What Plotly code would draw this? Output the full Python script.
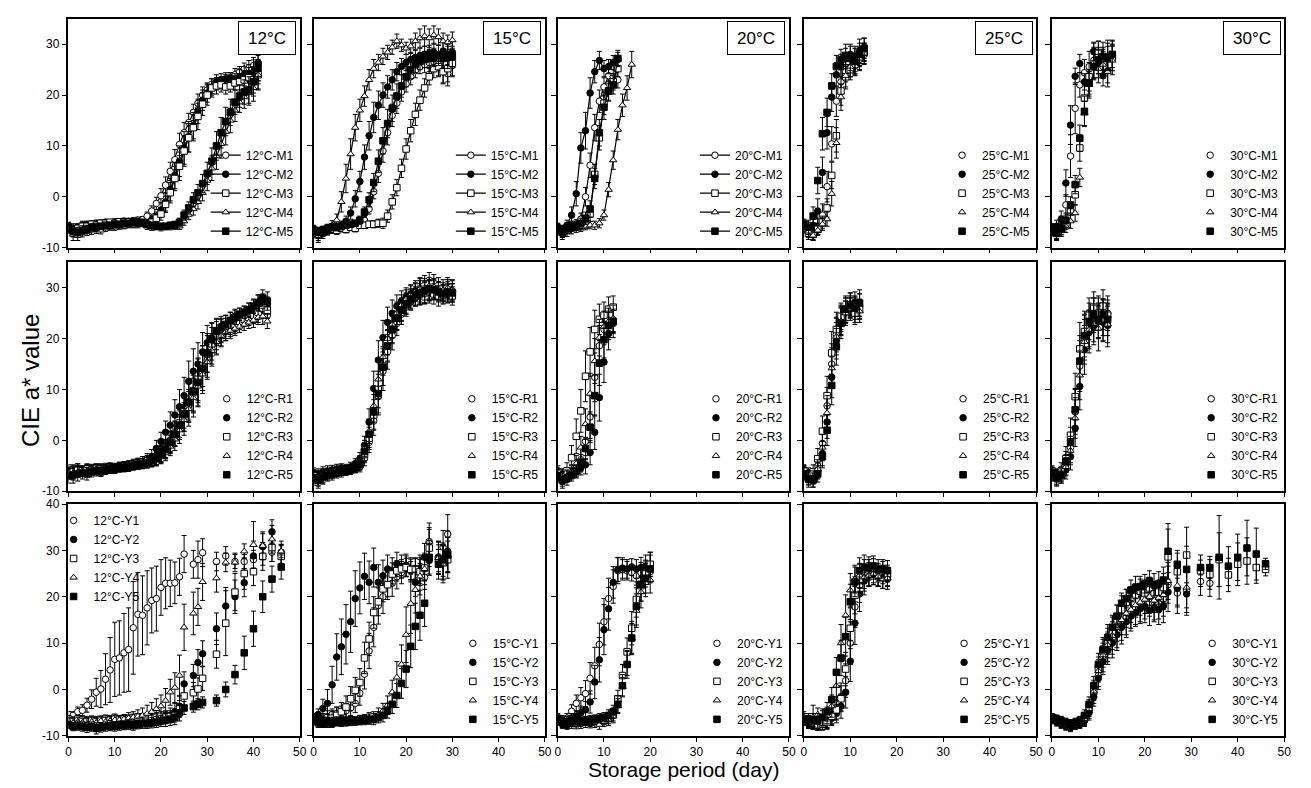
import plotly.graph_objects as go

# ---------------- DATA ----------------
TEMPS = ["12°C", "15°C", "20°C", "25°C", "30°C"]
KINDS = ["M", "R", "Y"]
X_TICKS = [0, 10, 20, 30, 40, 50]
Y_TICKS_MR = [-10, 0, 10, 20, 30]
Y_TICKS_Y = [-10, 0, 10, 20, 30, 40]

# ---- 12°C M ----
d12M = list(range(0, 42))
v12M1 = [-5.8,-6.2,-6.0,-5.6,-5.4,-5.6,-5.2,-5.4,-5.0,-5.2,-4.9,-5.0,-4.8,-5.0,-4.7,-4.6,-4.5,-3.8,-2.8,-1.3,0.2,2.3,5.0,7.3,10.3,12.6,14.6,16.6,18.4,20.0,21.0,21.5,22.2,22.6,23.0,23.2,24.0,24.6,25.1,25.4,25.8,24.8]
v12M2 = [-6.0,-6.8,-6.4,-6.0,-5.6,-5.5,-5.3,-5.2,-5.0,-5.1,-5.0,-4.9,-5.0,-4.8,-4.8,-4.9,-5.0,-5.2,-4.6,-4.0,-2.6,-1.0,1.4,4.2,7.0,9.6,11.8,14.0,16.8,19.0,20.4,21.6,22.6,23.0,23.2,23.4,23.0,23.6,24.0,24.2,24.5,25.0]
v12M3 = [-6.2,-6.6,-6.2,-5.8,-5.8,-5.4,-5.6,-5.2,-5.2,-5.0,-5.2,-4.9,-5.0,-4.9,-5.0,-5.1,-5.2,-5.3,-5.0,-4.2,-3.4,-1.5,0.8,3.6,6.0,9.0,11.6,13.6,15.8,18.2,20.0,21.4,21.8,22.0,21.6,21.8,22.4,22.6,23.0,23.4,23.0,24.0]
v12M4 = [-6.4,-7.4,-7.6,-7.0,-6.8,-6.6,-6.5,-6.6,-6.2,-6.0,-6.0,-5.8,-5.8,-5.6,-5.6,-5.5,-5.4,-5.8,-6.0,-6.0,-6.1,-6.0,-5.9,-5.8,-5.8,-4.8,-3.5,-2.4,-1.0,0.8,3.2,5.6,8.0,10.4,12.8,15.0,17.0,18.6,19.6,20.4,21.4,24.0]
v12M5 = [-6.0,-6.8,-7.0,-6.6,-6.4,-6.0,-6.0,-5.8,-5.6,-5.6,-5.4,-5.4,-5.2,-5.2,-5.0,-5.0,-5.2,-5.4,-5.6,-5.8,-5.8,-5.8,-5.6,-5.5,-5.0,-3.6,-2.2,-0.6,0.8,2.6,4.6,7.0,10.0,12.6,14.8,16.6,18.6,19.8,20.6,21.0,22.6,26.0]
e12M1 = [0.8,0.9,0.7,0.8,0.6,0.7,0.6,0.6,0.5,0.6,0.5,0.5,0.6,0.5,0.5,0.6,0.6,0.8,1.0,1.2,1.4,1.6,1.8,2.0,2.2,2.0,1.8,1.6,1.8,1.6,1.4,1.2,1.2,1.0,1.0,1.2,1.2,1.0,1.2,1.4,1.6,2.0]
e12M2 = [0.8,1.0,0.8,0.7,0.7,0.6,0.6,0.6,0.5,0.5,0.5,0.6,0.5,0.5,0.6,0.5,0.6,0.6,0.8,1.0,1.4,1.8,2.2,2.6,3.0,3.2,3.0,2.6,2.4,2.0,1.8,1.6,1.4,1.2,1.2,1.0,1.2,1.4,1.6,1.8,2.4,2.8]
e12M3 = [0.9,1.0,0.8,0.8,0.7,0.7,0.6,0.6,0.6,0.5,0.6,0.5,0.5,0.6,0.5,0.5,0.6,0.6,0.7,0.9,1.2,1.6,2.0,2.4,2.8,3.0,2.8,2.6,2.6,2.2,2.0,1.8,1.6,1.4,1.4,1.2,1.4,1.6,1.8,2.0,2.6,2.8]
e12M4 = [0.8,1.2,1.0,0.9,0.8,0.8,0.7,0.7,0.6,0.6,0.6,0.6,0.5,0.5,0.5,0.6,0.5,0.6,0.6,0.5,0.6,0.5,0.6,0.6,0.6,0.8,1.0,1.2,1.4,1.6,2.0,2.4,2.6,2.8,2.6,2.4,2.2,2.0,2.2,2.4,2.6,3.0]
e12M5 = [0.9,1.1,1.0,0.9,0.8,0.7,0.7,0.6,0.6,0.6,0.6,0.5,0.5,0.5,0.6,0.5,0.6,0.6,0.6,0.5,0.6,0.6,0.6,0.7,0.8,1.0,1.2,1.4,1.6,1.8,2.2,2.6,2.8,3.0,2.8,2.6,2.4,2.2,2.4,2.6,2.8,3.2]

# ---- 15°C M ----
d15M = list(range(0, 31))
v15M1 = [-6.4,-7.0,-6.6,-6.2,-6.0,-6.2,-5.8,-6.0,-5.6,-5.8,-5.4,-4.6,-2.4,1.0,4.6,9.0,12.6,16.0,18.4,20.6,22.2,23.6,24.8,25.6,26.0,26.4,26.6,26.0,24.8,24.2,25.8]
v15M2 = [-6.6,-7.2,-6.8,-6.4,-6.0,-6.0,-5.6,-4.8,-3.2,-0.4,3.0,7.8,12.0,15.6,18.0,20.0,21.6,23.0,24.6,25.6,26.4,27.0,27.4,27.8,28.0,28.2,28.4,28.0,28.6,28.0,28.4]
v15M3 = [-6.6,-7.4,-6.8,-6.6,-6.4,-6.6,-6.2,-6.4,-6.0,-6.2,-5.6,-5.6,-5.4,-5.4,-5.2,-5.2,-3.8,-1.0,1.8,5.6,9.4,13.0,16.2,19.0,21.4,23.6,25.2,25.6,24.6,25.2,26.2]
v15M4 = [-6.8,-7.8,-7.2,-6.6,-5.6,-4.6,-1.0,3.6,8.4,13.6,17.0,19.8,23.0,25.2,26.4,27.6,28.4,29.4,30.6,29.8,29.2,29.6,30.6,31.2,31.6,31.2,31.8,31.4,30.6,30.4,30.8]
v15M5 = [-6.6,-7.0,-6.8,-6.2,-6.0,-6.0,-5.8,-5.6,-5.4,-5.2,-4.6,-3.0,-0.6,2.8,7.0,11.0,14.4,17.4,19.8,21.8,23.6,25.0,26.0,26.6,27.0,27.2,27.4,27.8,27.2,27.4,27.6]
e15M1 = [0.8,1.0,0.8,0.7,0.7,0.6,0.6,0.6,0.6,0.6,0.7,0.8,1.0,1.4,1.8,2.2,2.4,2.2,2.0,1.8,1.6,1.6,1.4,1.4,1.6,1.8,2.0,2.2,2.4,2.4,2.2]
e15M2 = [0.8,1.0,0.9,0.8,0.7,0.7,0.8,1.0,1.2,1.6,2.0,2.4,2.8,3.0,2.8,2.4,2.2,2.0,1.8,1.6,1.6,1.4,1.4,1.4,1.6,1.6,1.8,1.8,2.0,2.0,2.2]
e15M3 = [0.8,1.2,1.0,0.9,0.8,0.8,0.7,0.7,0.6,0.7,0.6,0.6,0.6,0.7,0.8,1.0,1.2,1.4,1.6,1.8,2.0,2.2,2.2,2.0,1.8,1.6,1.8,2.0,2.4,2.6,2.4]
e15M4 = [1.0,1.2,1.0,0.9,0.9,1.2,2.0,2.8,3.0,2.6,2.2,2.0,2.0,1.8,1.6,1.6,1.4,1.4,1.4,1.2,1.2,1.4,1.6,1.8,2.0,1.8,1.8,1.6,1.6,1.4,1.6]
e15M5 = [0.8,1.0,0.9,0.8,0.7,0.7,0.7,0.6,0.6,0.6,0.8,1.0,1.4,1.8,2.2,2.6,2.8,2.6,2.4,2.2,2.0,1.8,1.6,1.6,1.6,1.8,1.8,2.0,2.0,2.2,2.0]

# ---- 20°C M ----
d20M = list(range(0, 14))
d20M4 = list(range(0, 17))
v20M1 = [-6.0,-6.6,-6.0,-5.6,-5.4,-4.4,0.0,6.2,13.6,18.8,21.6,23.8,23.6,23.0]
v20M2 = [-6.2,-6.8,-5.6,-3.6,0.6,9.6,13.0,20.4,24.6,26.8,25.2,25.6,26.4,27.0]
v20M3 = [-6.4,-7.0,-6.4,-6.0,-5.8,-5.6,-5.2,-3.4,4.4,11.6,18.4,20.8,22.6,25.2]
v20M4 = [-6.6,-7.2,-6.8,-6.4,-6.2,-6.0,-5.8,-5.6,-5.6,-5.2,-3.6,1.4,7.2,13.2,18.0,21.4,26.0]
v20M5 = [-6.2,-6.8,-6.2,-5.8,-5.6,-5.2,-4.2,-2.4,3.6,12.6,17.6,20.8,22.0,27.2]
e20M1 = [0.8,1.0,0.8,0.8,0.9,1.2,1.8,2.4,2.6,2.2,1.8,1.6,1.4,1.6]
e20M2 = [0.8,1.0,1.0,1.6,2.4,3.0,3.6,3.0,2.2,1.8,1.6,1.4,1.4,1.4]
e20M3 = [0.8,1.0,0.9,0.8,0.8,0.9,1.0,1.4,2.0,2.4,2.2,1.8,1.6,1.6]
e20M4 = [0.9,1.2,1.0,0.9,0.8,0.8,0.7,0.7,0.8,0.9,1.0,1.4,1.8,2.0,2.2,2.4,2.6]
e20M5 = [0.9,1.1,0.9,0.8,0.8,1.0,1.2,1.6,2.0,2.6,2.4,2.0,1.8,1.6]

# ---- 25°C M ----
d25M = list(range(0, 14))
v25M1 = [-5.8,-6.6,-7.0,-5.8,-3.6,2.0,10.4,18.8,22.6,24.6,25.4,26.2,27.0,28.0]
v25M2 = [-5.6,-6.4,-5.6,-2.8,4.8,12.6,19.6,24.0,25.8,27.2,28.0,27.4,28.6,29.0]
v25M3 = [-6.2,-7.2,-7.4,-6.4,-5.0,-2.2,4.2,12.0,20.8,23.6,25.0,26.0,27.6,28.4]
v25M4 = [-6.0,-6.8,-7.6,-6.6,-5.4,-4.4,0.6,10.6,19.6,23.8,25.6,26.4,27.2,28.2]
v25M5 = [-5.4,-6.0,-3.8,3.2,12.4,16.6,21.8,25.6,27.0,27.8,27.2,26.6,28.0,29.2]
e25M1 = [0.8,1.2,1.4,1.6,2.2,3.0,3.4,3.0,2.4,2.0,1.8,2.0,2.2,2.0]
e25M2 = [1.0,1.4,1.6,2.4,3.0,3.2,2.8,2.4,2.2,2.0,2.0,2.2,2.4,2.2]
e25M3 = [0.9,1.2,1.2,1.0,1.2,1.8,2.6,3.2,2.8,2.4,2.0,2.2,2.0,1.8]
e25M4 = [0.9,1.2,1.0,1.0,1.2,1.4,2.4,3.0,2.6,2.2,2.0,1.8,2.2,2.0]
e25M5 = [1.0,1.4,1.8,2.6,3.2,2.8,2.4,2.2,2.0,2.2,2.4,2.6,2.2,2.0]

# ---- 30°C M ----
d30M = list(range(0, 14))
v30M1 = [-6.2,-6.6,-5.2,-1.6,8.0,17.4,22.0,24.4,25.6,26.8,27.4,26.4,27.6,27.8]
v30M2 = [-6.5,-5.8,-4.4,2.7,14.1,23.7,26.2,22.6,22.4,28.6,26.2,23.8,24.8,27.6]
v30M3 = [-6.6,-7.2,-6.4,-5.2,-3.0,0.4,9.6,19.4,23.6,25.6,28.2,26.4,27.4,27.4]
v30M4 = [-6.8,-7.4,-6.6,-5.8,-4.8,-3.2,3.8,16.4,22.0,26.4,25.2,26.0,24.6,26.8]
v30M5 = [-6.4,-7.0,-6.2,-4.6,-1.6,2.4,11.5,16.8,22.4,25.6,26.8,27.6,27.2,28.0]
e30M1 = [0.9,1.2,1.4,2.0,4.2,5.0,2.4,2.6,3.0,3.4,3.2,3.0,3.2,3.0]
e30M2 = [1.0,1.2,1.6,2.6,3.8,1.6,1.8,1.6,2.2,1.8,2.8,2.0,2.4,2.2]
e30M3 = [0.9,1.2,1.1,1.2,1.8,2.0,2.6,3.0,2.8,2.6,2.4,2.6,2.8,2.6]
e30M4 = [0.9,1.2,1.2,1.2,1.4,1.6,1.8,2.4,2.6,3.0,2.8,2.6,3.0,2.8]
e30M5 = [1.0,1.2,1.2,1.4,1.6,1.8,2.6,3.0,2.6,2.4,2.6,2.8,2.4,2.6]

# ---- 12°C R ----
d12R = list(range(0, 44))
v12R1 = [-6.2,-6.0,-5.6,-6.2,-5.8,-5.6,-5.8,-5.6,-5.8,-5.6,-5.6,-5.4,-5.2,-5.0,-5.0,-4.8,-4.6,-4.4,-4.0,-3.6,-3.0,-2.0,-0.8,0.8,2.6,4.6,6.8,9.2,11.2,13.4,15.8,18.0,19.6,20.8,21.4,21.8,22.2,22.8,23.4,23.8,24.2,24.6,25.6,24.6]
v12R2 = [-6.0,-6.4,-5.8,-6.0,-5.6,-5.8,-5.6,-5.4,-5.8,-5.6,-5.4,-5.2,-5.0,-5.2,-4.8,-4.6,-4.2,-3.8,-3.2,-1.6,-0.2,1.6,3.0,5.0,6.6,8.8,11.6,13.6,15.0,17.4,19.2,20.2,21.2,21.6,22.8,23.6,24.4,24.8,25.2,25.8,26.2,27.2,27.6,26.6]
v12R3 = [-6.4,-6.2,-5.8,-6.0,-5.6,-5.8,-5.4,-5.6,-5.4,-5.2,-5.4,-5.2,-5.0,-4.8,-4.6,-4.4,-4.2,-4.0,-3.8,-3.4,-2.6,-1.6,-0.2,1.4,3.4,5.6,7.6,9.8,12.0,14.6,17.0,19.0,20.6,21.6,22.0,22.4,22.8,23.4,23.8,24.2,24.6,25.2,26.0,25.6]
v12R4 = [-6.6,-6.4,-6.2,-6.0,-6.2,-5.8,-5.6,-5.8,-5.6,-5.4,-5.6,-5.4,-5.2,-5.2,-5.0,-4.8,-4.6,-4.4,-4.2,-3.8,-3.2,-2.4,-1.2,0.2,2.0,4.0,6.2,8.4,10.6,13.0,15.4,17.6,19.4,20.6,21.4,21.6,22.0,22.4,22.8,23.2,23.6,24.2,24.4,23.4]
v12R5 = [-7.0,-6.8,-6.6,-6.4,-6.6,-6.2,-6.0,-6.2,-5.8,-5.6,-5.6,-5.4,-5.4,-5.2,-5.0,-4.8,-4.6,-4.4,-4.0,-3.6,-2.8,-1.8,-0.4,1.2,3.0,5.2,7.4,9.6,11.4,14.2,17.2,19.8,21.4,22.2,22.8,23.6,24.2,24.8,25.2,25.6,26.4,27.0,28.0,27.4]
e12R1 = [1.0,1.2,1.0,0.9,1.0,0.9,0.8,0.9,0.8,0.8,0.9,0.8,0.8,0.9,0.8,0.8,0.9,1.0,1.0,1.2,1.4,1.6,1.8,2.0,2.4,2.8,3.2,3.6,3.8,3.6,3.4,3.0,2.6,2.2,1.8,1.4,1.2,1.0,1.0,1.2,1.2,1.4,1.6,1.4]
e12R2 = [1.2,1.4,1.2,1.0,1.0,0.9,0.9,0.8,0.9,0.8,0.9,0.9,0.8,0.8,0.9,1.0,1.0,1.2,1.4,1.6,1.8,2.2,2.6,3.0,3.4,3.6,4.0,4.4,4.2,3.8,3.4,3.0,2.6,2.2,1.8,1.6,1.4,1.2,1.2,1.2,1.4,1.4,1.2,1.6]
e12R3 = [1.0,1.0,0.9,1.0,0.8,0.9,0.8,0.8,0.9,0.8,0.8,0.9,0.8,0.8,0.9,0.9,1.0,1.0,1.2,1.4,1.6,1.8,2.0,2.4,2.8,3.2,3.6,4.0,4.2,4.0,3.6,3.2,2.8,2.4,2.0,1.6,1.4,1.2,1.2,1.2,1.4,1.4,1.6,1.6]
e12R4 = [1.0,1.2,1.0,0.9,0.9,0.8,0.9,0.8,0.8,0.8,0.8,0.8,0.9,0.8,0.8,0.9,0.9,1.0,1.0,1.2,1.4,1.6,1.8,2.2,2.6,3.0,3.4,3.8,4.0,3.8,3.4,3.0,2.6,2.2,1.8,1.6,1.4,1.2,1.2,1.2,1.4,1.4,1.6,1.4]
e12R5 = [1.4,1.6,1.4,1.2,1.2,1.0,1.0,0.9,0.9,0.9,0.9,0.8,0.8,0.9,0.8,0.9,1.0,1.0,1.2,1.4,1.6,1.8,2.0,2.4,2.8,3.4,3.8,4.2,4.6,4.4,3.8,3.2,2.6,2.2,1.8,1.6,1.4,1.2,1.2,1.4,1.4,1.6,1.6,1.8]

# ---- 15°C R ----
d15R = list(range(0, 31))
v15R1 = [-6.8,-7.2,-6.6,-6.4,-6.2,-6.0,-6.0,-5.8,-5.6,-5.4,-5.2,-3.6,-0.4,3.8,8.6,13.6,17.4,20.6,23.0,24.8,26.2,27.2,28.0,28.6,29.0,29.4,29.6,29.2,29.0,28.8,29.4]
v15R2 = [-6.4,-6.8,-6.2,-6.0,-5.8,-5.6,-5.4,-5.6,-5.2,-4.6,-3.6,-1.0,3.6,10.2,15.8,20.2,23.2,25.0,26.4,27.4,28.2,28.8,29.4,29.6,29.2,29.6,29.8,29.4,29.2,29.6,29.0]
v15R3 = [-7.0,-7.4,-7.0,-6.6,-6.4,-6.2,-6.0,-5.8,-5.6,-5.2,-4.8,-2.8,0.4,5.0,10.0,14.6,18.6,21.8,24.2,25.8,27.0,27.8,28.4,28.8,29.0,29.2,28.8,28.4,28.6,29.0,28.4]
v15R4 = [-7.2,-7.6,-7.2,-6.8,-6.4,-6.2,-6.0,-5.8,-5.6,-5.0,-4.2,-1.6,1.8,6.8,12.0,16.4,20.0,22.8,25.0,26.6,27.8,28.6,29.2,29.8,30.0,30.4,30.2,29.8,29.6,30.0,29.6]
v15R5 = [-7.4,-7.8,-7.2,-6.8,-6.6,-6.4,-6.2,-6.0,-5.8,-5.4,-4.6,-2.2,1.2,5.6,9.2,14.4,18.6,21.8,24.0,25.6,26.8,27.8,28.6,29.0,29.4,29.8,29.6,29.2,28.8,29.2,29.0]
e15R1 = [1.0,1.2,1.0,0.9,0.9,0.8,0.8,0.8,0.8,0.9,1.0,1.4,2.0,2.8,3.6,3.8,3.4,2.8,2.4,2.0,1.8,1.6,1.6,1.8,2.0,2.0,1.8,1.8,1.6,1.8,2.0]
e15R2 = [1.0,1.2,1.0,1.0,0.9,0.9,0.8,0.9,0.9,1.0,1.2,1.8,2.6,3.4,3.8,3.4,3.0,2.6,2.2,2.0,1.8,1.8,2.0,2.4,2.2,2.0,2.0,1.8,1.8,2.0,1.8]
e15R3 = [1.2,1.4,1.2,1.0,1.0,0.9,0.9,0.9,0.8,0.9,1.0,1.6,2.2,3.0,3.6,3.8,3.2,2.8,2.4,2.2,2.0,1.8,1.8,2.0,2.2,2.2,2.0,2.0,1.8,1.8,1.8]
e15R4 = [1.2,1.4,1.2,1.0,1.0,0.9,0.9,0.8,0.8,0.9,1.2,1.6,2.4,3.2,3.8,3.6,3.2,2.6,2.2,2.0,1.8,1.8,1.8,2.0,2.4,2.6,2.4,2.2,2.0,2.0,2.0]
e15R5 = [1.4,1.6,1.4,1.2,1.2,1.0,1.0,0.9,0.9,1.0,1.2,1.8,2.6,3.4,3.8,3.6,3.0,2.6,2.4,2.2,2.0,2.0,2.2,2.4,2.4,2.2,2.0,2.0,1.8,2.0,1.8]

# ---- 20°C R ----
d20R = list(range(0, 13))
v20R1 = [-6.4,-7.2,-6.8,-6.0,-5.4,-3.8,-0.2,4.6,12.4,18.6,21.8,22.8,23.6]
v20R2 = [-6.6,-7.4,-7.0,-6.6,-6.2,-5.4,-4.8,-2.4,1.6,8.4,15.4,21.0,23.0]
v20R3 = [-6.2,-7.0,-6.0,-3.4,0.8,5.8,12.6,17.4,21.8,23.8,24.6,25.8,26.2]
v20R4 = [-6.8,-7.6,-7.0,-6.2,-4.6,-1.4,3.2,9.2,15.6,20.2,22.4,23.4,24.0]
v20R5 = [-7.0,-7.8,-7.4,-6.8,-6.0,-4.4,-1.6,2.6,8.8,15.2,19.8,22.6,23.4]
e20R1 = [1.0,1.4,1.2,1.2,1.6,2.4,3.4,4.2,4.8,4.0,3.0,2.6,2.4]
e20R2 = [1.0,1.2,1.2,1.0,1.2,1.4,1.8,2.4,3.4,4.6,4.0,3.2,2.8]
e20R3 = [1.2,1.4,1.6,2.4,3.4,4.2,5.0,4.8,3.8,3.0,2.6,2.4,2.2]
e20R4 = [1.0,1.4,1.2,1.2,1.6,2.2,3.0,4.0,4.4,3.6,3.0,2.6,2.6]
e20R5 = [1.2,1.6,1.4,1.2,1.2,1.6,2.2,3.0,4.0,4.4,3.6,2.8,2.4]

# ---- 25°C R ----
d25R = list(range(0, 13))
v25R1 = [-5.8,-6.6,-7.0,-5.0,-0.6,6.8,15.0,20.8,24.0,25.2,26.0,25.6,26.6]
v25R2 = [-6.2,-7.2,-7.4,-6.0,-2.6,3.6,12.4,19.6,23.6,25.6,26.8,27.2,26.4]
v25R3 = [-6.0,-7.0,-6.2,-3.6,1.8,8.8,17.2,21.8,24.4,25.8,26.4,25.0,25.8]
v25R4 = [-6.4,-7.4,-7.6,-5.6,-1.4,5.4,14.2,20.4,23.4,25.0,25.8,26.4,25.4]
v25R5 = [-6.6,-7.6,-7.8,-6.6,-3.2,2.0,10.8,18.4,23.0,25.8,26.6,26.0,27.0]
e25R1 = [1.0,1.2,1.4,2.0,2.8,3.6,4.0,3.4,2.6,2.2,2.0,2.4,2.2]
e25R2 = [1.2,1.4,1.2,1.6,2.4,3.2,4.0,3.6,2.8,2.4,2.2,2.0,2.4]
e25R3 = [1.0,1.2,1.4,2.0,3.0,3.8,4.2,3.4,2.6,2.2,2.0,2.2,2.0]
e25R4 = [1.2,1.4,1.6,1.8,2.6,3.4,4.0,3.6,2.8,2.4,2.2,2.0,2.2]
e25R5 = [1.2,1.6,1.4,1.6,2.2,3.0,3.8,3.6,3.0,2.6,2.4,2.2,2.6]

# ---- 30°C R ----
d30R = list(range(0, 13))
v30R1 = [-6.2,-7.0,-6.6,-4.8,-1.4,5.6,14.6,20.2,22.0,24.6,23.4,24.2,25.0]
v30R2 = [-6.6,-7.4,-7.0,-5.8,-3.2,2.4,10.6,17.8,21.2,22.4,24.0,23.2,22.6]
v30R3 = [-6.0,-6.8,-6.0,-3.6,1.0,8.6,18.0,21.4,24.6,26.2,25.0,26.4,24.6]
v30R4 = [-6.8,-7.6,-7.2,-5.2,-2.0,4.4,12.8,19.4,21.8,23.0,22.0,23.6,22.8]
v30R5 = [-6.4,-7.2,-6.8,-4.2,-0.4,6.0,15.6,20.6,23.4,24.8,23.6,24.8,23.8]
e30R1 = [1.0,1.2,1.4,2.0,3.0,4.4,5.0,4.4,3.6,3.4,3.2,3.6,3.4]
e30R2 = [1.2,1.4,1.4,1.8,2.6,3.6,4.6,4.8,4.0,3.6,4.0,3.8,4.2]
e30R3 = [1.0,1.2,1.6,2.4,3.4,4.6,5.2,4.0,3.4,3.0,3.4,3.2,3.0]
e30R4 = [1.2,1.4,1.2,1.8,2.8,4.0,4.8,4.4,3.8,3.6,4.4,4.0,3.6]
e30R5 = [1.0,1.4,1.2,2.0,3.0,4.2,5.0,4.2,3.6,3.2,3.4,3.0,3.2]

# ---- 12°C Y ----
d12Y = [0,1,2,3,4,5,6,7,8,9,10,11,12,13,14,15,16,17,18,19,20,21,22,23,24,25,27,28,29,32,34,36,38,40,42,44,46]
v12Y1 = [-5.4,-5.6,-4.8,-4.5,-3.4,-2.1,-0.6,0.1,2.2,4.2,6.5,6.8,7.9,8.6,13.3,16.2,16.0,17.6,19.2,19.6,22.0,22.9,22.9,23.0,24.3,29.2,27.0,28.0,29.5,27.6,28.8,27.6,27.6,28.0,28.8,29.6,29.0]
v12Y2 = [-7.0,-7.4,-7.2,-7.4,-7.6,-7.4,-7.8,-7.6,-7.4,-7.6,-7.4,-7.2,-7.4,-7.2,-7.0,-7.0,-6.8,-7.0,-6.8,-6.6,-6.4,-6.0,-5.6,-4.8,-3.6,1.2,3.0,5.8,7.7,13.1,18.0,20.0,23.0,28.8,30.8,34.0,29.6]
v12Y3 = [-6.4,-6.8,-6.4,-6.6,-6.8,-6.6,-6.8,-6.6,-6.4,-6.6,-6.2,-6.6,-6.4,-6.4,-6.2,-6.0,-6.2,-6.0,-6.2,-6.0,-5.8,-6.0,-5.8,-5.6,-4.2,-1.4,-0.7,0.1,2.4,7.6,14.3,21.0,25.0,25.4,28.7,30.6,28.7]
v12Y4 = [-6.8,-7.2,-7.0,-7.2,-7.4,-7.0,-7.2,-6.8,-7.0,-6.8,-6.6,-6.6,-6.4,-6.2,-6.0,-5.8,-5.6,-5.2,-4.8,-4.2,-3.6,-2.4,-0.6,0.4,3.0,13.4,16.4,17.8,23.2,24.0,27.4,27.4,29.8,31.2,31.0,32.4,29.8]
v12Y5 = [-7.6,-8.0,-7.8,-8.0,-8.2,-8.0,-8.4,-8.2,-8.0,-7.8,-8.0,-7.8,-7.8,-7.6,-7.8,-7.6,-7.4,-7.4,-7.2,-7.0,-6.8,-6.6,-6.4,-6.0,-5.0,-4.0,-3.7,-3.2,-2.8,-2.4,0.0,3.2,7.9,13.1,20.0,23.8,26.4]
e12Y1 = [0.6,0.8,1.0,1.2,1.5,2.0,3.0,4.0,5.5,7.0,8.0,8.0,8.5,9.0,10.0,9.0,8.5,8.0,7.0,7.0,6.0,5.5,5.0,4.5,4.0,4.0,3.0,4.0,3.0,2.0,2.0,1.5,1.5,2.0,2.0,2.0,2.0]
e12Y2 = [0.8,0.9,1.0,1.0,1.1,1.0,1.2,1.0,1.0,1.1,1.0,1.0,0.9,1.0,1.0,0.9,1.0,1.0,1.1,1.2,1.2,1.4,1.6,1.8,2.2,2.6,2.4,2.8,2.8,3.4,4.0,3.6,3.0,3.2,2.8,2.6,2.4]
e12Y3 = [0.8,0.9,0.8,0.9,1.0,0.9,1.0,0.9,0.9,1.0,0.9,0.9,0.8,0.9,0.9,0.8,0.9,0.9,1.0,1.0,1.0,1.2,1.2,1.4,1.8,2.6,2.2,2.4,2.6,3.0,7.0,4.0,3.4,3.0,3.0,3.0,2.6]
e12Y4 = [0.8,0.9,1.0,1.0,1.1,1.0,1.0,0.9,1.0,1.0,0.9,1.0,1.0,1.2,1.2,1.4,1.6,1.8,2.0,2.2,2.4,2.6,2.8,3.2,4.4,5.0,4.6,4.0,4.0,3.0,2.0,2.0,1.6,5.0,3.0,3.0,1.4]
e12Y5 = [0.8,0.9,1.0,1.0,1.1,1.0,1.2,1.0,1.0,1.1,1.0,1.0,0.9,1.0,1.0,0.9,1.0,1.0,1.1,1.2,1.2,1.4,1.4,1.6,1.8,1.4,1.2,1.2,1.2,1.2,1.6,2.0,3.6,3.8,3.4,2.8,2.6]

# ---- 15°C Y ----
d15Y = [0,1,2,3,4,5,6,7,8,9,10,11,12,13,14,15,16,17,18,19,20,21,22,23,24,25,27,28,29]
v15Y1 = [-6.0,-6.4,-6.2,-5.8,-5.4,-5.2,-5.0,-4.6,-4.0,-3.0,-0.8,3.3,8.3,13.4,18.1,20.0,22.6,22.9,24.3,25.2,26.6,25.6,26.0,24.8,24.2,31.9,28.6,30.7,33.5]
v15Y2 = [-6.2,-5.4,-4.1,-3.0,1.0,7.0,9.2,11.9,14.6,19.6,21.9,24.4,23.1,26.3,23.1,24.5,26.0,25.6,27.0,26.6,26.8,25.8,23.1,26.2,28.5,27.8,28.4,27.4,29.8]
v15Y3 = [-6.6,-7.2,-7.0,-6.8,-6.2,-5.6,-4.8,-3.8,-2.0,-0.2,1.5,6.8,10.9,16.6,18.9,21.7,22.6,24.9,25.6,26.0,26.3,25.9,26.0,25.4,26.2,30.5,28.0,27.4,28.0]
v15Y4 = [-6.4,-6.8,-7.0,-7.2,-7.0,-6.8,-7.0,-6.8,-6.6,-6.8,-6.6,-6.4,-6.2,-6.0,-5.4,-4.6,-3.4,-0.6,2.6,5.4,11.8,18.5,21.5,24.4,26.0,31.9,28.4,27.0,29.0]
v15Y5 = [-6.6,-7.0,-7.2,-7.0,-7.2,-7.0,-6.8,-7.0,-6.8,-6.8,-6.6,-6.6,-6.4,-6.4,-6.0,-5.6,-4.6,-3.2,-1.3,1.3,4.4,9.3,13.6,16.0,18.6,28.5,27.0,28.0,29.0]
e15Y1 = [0.8,1.0,1.0,1.2,1.2,1.4,1.4,1.6,1.8,2.0,2.6,3.2,3.8,4.2,4.0,3.6,3.2,2.8,2.6,2.4,2.2,2.0,2.2,2.4,2.6,3.0,3.2,3.6,4.2]
e15Y2 = [1.0,1.2,2.0,3.0,4.0,5.0,6.0,6.4,6.6,6.0,5.6,5.0,4.6,4.2,3.8,3.4,3.0,2.8,2.6,2.4,2.4,2.6,3.0,2.8,3.0,3.2,3.4,3.8,4.4]
e15Y3 = [0.8,1.0,1.2,1.4,1.6,1.8,2.0,2.4,2.6,2.8,3.0,3.4,3.6,3.4,3.0,2.8,2.6,2.4,2.2,2.0,2.0,2.2,2.4,2.6,2.8,4.0,3.2,3.6,4.0]
e15Y4 = [0.8,0.9,1.0,0.9,1.0,0.9,1.0,0.9,1.0,0.9,1.0,1.0,1.2,1.2,1.4,1.6,2.0,2.6,3.4,4.2,6.0,6.4,5.0,4.0,3.4,4.0,3.6,4.0,3.8]
e15Y5 = [0.8,0.9,1.0,0.9,1.0,0.9,1.0,0.9,1.0,0.9,1.0,1.0,1.1,1.2,1.2,1.4,1.6,2.0,2.6,3.2,4.0,4.6,5.0,5.4,5.0,3.6,3.2,3.6,3.8]

# ---- 20°C Y ----
d20Y = list(range(0, 21))
v20Y1 = [-6.0,-6.6,-6.2,-4.7,-3.0,-1.8,-0.9,2.4,5.1,9.7,14.6,19.6,22.2,25.6,25.8,25.6,25.2,24.5,25.2,25.9,25.4]
v20Y2 = [-6.4,-7.0,-6.8,-6.2,-5.8,-5.0,-4.4,-2.7,1.6,6.4,12.9,17.4,23.1,25.9,26.2,26.0,26.4,26.0,26.3,26.6,27.0]
v20Y3 = [-6.6,-7.2,-7.4,-7.0,-7.2,-7.0,-6.8,-7.0,-6.6,-6.8,-6.6,-6.2,-5.4,-2.0,3.0,8.1,13.2,19.4,22.4,24.9,27.0]
v20Y4 = [-6.8,-7.4,-7.6,-7.4,-7.6,-7.4,-7.2,-7.4,-7.2,-7.6,-7.0,-6.6,-5.8,-3.6,0.6,5.6,11.0,17.0,21.0,23.0,23.6]
v20Y5 = [-6.4,-7.0,-7.2,-7.0,-6.8,-6.6,-6.8,-6.6,-6.4,-6.2,-6.0,-5.6,-4.8,-3.2,0.8,5.4,11.1,17.9,22.7,24.0,26.0]
e20Y1 = [0.8,1.0,1.0,1.4,1.8,2.2,2.8,3.4,4.0,4.6,5.0,4.4,3.6,2.8,2.2,2.0,1.8,2.0,2.2,2.0,2.2]
e20Y2 = [0.8,1.0,1.0,1.0,1.2,1.4,1.8,2.4,3.6,4.8,5.4,4.6,3.4,2.6,2.2,2.0,1.8,2.0,2.2,2.4,2.6]
e20Y3 = [0.8,1.0,1.0,1.0,0.9,1.0,0.9,1.0,0.9,1.0,1.0,1.2,1.4,1.8,2.4,3.0,3.6,3.8,3.4,2.8,2.6]
e20Y4 = [0.8,1.0,1.0,1.0,0.9,1.0,1.0,0.9,1.0,1.0,1.0,1.2,1.4,1.6,2.0,2.6,3.2,3.6,3.4,3.0,2.8]
e20Y5 = [0.8,1.0,1.0,1.0,0.9,1.0,0.9,1.0,0.9,1.0,1.0,1.2,1.4,1.8,2.4,3.0,3.6,4.0,3.6,3.2,3.0]

# ---- 25°C Y ----
d25Y = list(range(0, 19))
v25Y1 = [-6.2,-6.8,-7.0,-7.2,-6.8,-6.6,-5.6,-4.0,-1.6,1.9,10.0,17.8,22.4,24.0,24.6,24.8,24.2,24.0,24.4]
v25Y2 = [-6.6,-7.2,-7.4,-7.6,-7.2,-7.0,-6.2,-5.2,-3.6,-0.6,6.1,14.3,20.6,23.4,24.8,25.0,24.6,24.8,23.8]
v25Y3 = [-6.8,-7.0,-7.2,-7.6,-7.4,-7.0,-5.8,-4.4,-2.0,4.4,13.2,20.3,23.8,25.4,25.8,26.0,25.2,25.6,25.0]
v25Y4 = [-6.0,-6.6,-6.0,-5.4,-6.2,-5.6,-3.6,0.8,10.0,16.0,21.4,23.8,24.6,24.2,24.6,25.0,24.4,23.8,24.0]
v25Y5 = [-6.4,-7.0,-6.6,-6.8,-6.0,-4.8,-2.2,3.7,6.8,11.4,18.9,23.2,25.6,26.4,26.2,26.6,25.8,26.0,25.6]
e25Y1 = [1.0,1.2,1.2,1.4,1.4,1.6,1.8,2.4,3.0,3.6,4.6,4.4,3.6,2.8,2.4,2.2,2.0,2.2,2.0]
e25Y2 = [1.0,1.2,1.2,1.2,1.4,1.4,1.6,2.0,2.6,3.4,4.4,4.6,3.8,3.0,2.6,2.4,2.2,2.0,2.2]
e25Y3 = [1.0,1.2,1.2,1.2,1.4,1.6,1.8,2.2,2.8,3.6,4.4,4.0,3.2,2.6,2.2,2.2,2.0,2.0,1.8]
e25Y4 = [1.2,1.4,2.6,1.4,1.6,1.8,2.4,3.2,4.0,4.4,3.6,3.0,2.6,2.4,2.2,2.0,2.2,2.0,1.8]
e25Y5 = [1.2,1.4,1.4,1.6,1.8,2.0,2.6,3.2,3.8,4.2,3.8,3.2,2.8,2.6,2.4,2.2,2.2,2.0,2.2]

# ---- 30°C Y ----
d30Y_long = [0,1,2,3,4,5,6,7,8,9,10,11,12,13,14,15,16,17,18,19,20,21,22,23,24,25,27,29,32,34,36,38,40,42,44,46]
d30Y1 = [0,1,2,3,4,5,6,7,8,9,10,11,12,13,14,15,16,17,18,19,20,21,22,23,24,25,27,29,32,34]
d30Y_short = [0,1,2,3,4,5,6,7,8,9,10,11,12,13,14,15,16,17,18,19,20,21,22,23,24,25,27,29]
v30Y1 = [-6.4,-6.8,-7.2,-7.6,-7.8,-7.6,-7.2,-6.6,-4.6,-1.0,3.0,6.6,9.0,10.8,12.4,14.2,15.6,16.8,17.4,17.8,18.4,18.8,18.2,18.6,19.4,22.6,20.8,21.4,23.3,22.9]
v30Y2 = [-6.6,-7.0,-7.4,-7.8,-8.0,-7.6,-7.4,-6.8,-5.0,-1.6,2.4,6.0,8.4,10.0,11.8,13.4,14.6,15.8,16.6,17.4,17.8,17.0,17.6,17.2,18.0,21.0,21.8,20.6]
v30Y3 = [-6.2,-6.6,-7.0,-7.4,-7.6,-7.4,-7.0,-6.2,-3.8,0.0,4.6,8.2,10.4,12.6,15.0,17.2,18.8,19.6,20.4,21.2,20.8,21.6,20.6,21.0,22.0,28.6,25.4,29.0,25.6,24.8,28.0,24.7,27.0,27.7,26.3,25.9]
v30Y4 = [-6.2,-6.6,-7.0,-7.4,-7.6,-7.4,-7.0,-6.4,-4.2,-0.4,4.0,7.4,9.6,11.6,13.4,15.0,16.4,17.2,18.2,18.8,19.4,20.0,19.2,19.8,20.4,23.4,22.4,22.0]
v30Y5 = [-6.0,-6.4,-6.8,-7.2,-7.6,-7.2,-6.8,-5.6,-3.2,0.8,5.4,8.6,11.2,13.4,15.8,18.6,19.6,21.4,22.0,22.2,22.8,23.4,22.6,22.8,23.6,29.8,27.0,25.9,26.3,26.3,28.5,26.6,28.5,30.5,29.2,27.1]
e30Y1 = [0.8,0.9,1.0,1.0,1.1,1.0,1.0,1.2,1.6,2.0,2.4,2.8,3.0,3.2,3.4,3.6,3.8,3.6,3.4,3.2,3.2,3.0,3.2,3.4,3.6,4.0,4.4,4.8,3.0,2.8]
e30Y2 = [0.8,0.9,1.0,1.0,1.1,1.0,1.0,1.2,1.6,2.0,2.4,2.8,3.0,3.2,3.4,3.6,3.4,3.2,3.0,3.2,3.4,3.2,3.0,3.2,3.6,4.2,4.0,4.6]
e30Y3 = [0.8,0.9,1.0,1.0,1.1,1.0,1.0,1.2,1.6,2.0,2.4,2.6,2.8,3.0,3.2,3.0,2.8,2.6,2.4,2.6,2.8,2.6,2.4,2.6,3.0,6.0,4.0,6.0,3.4,3.2,5.8,3.6,4.6,5.0,3.4,1.4]
e30Y4 = [0.8,0.9,1.0,1.0,1.1,1.0,1.0,1.2,1.6,2.0,2.4,2.6,2.8,3.0,3.0,3.2,3.0,2.8,2.6,2.8,3.0,2.8,2.6,2.8,3.2,4.0,4.2,4.4]
e30Y5 = [0.8,0.9,1.0,1.0,1.1,1.0,1.0,1.2,1.6,2.0,2.4,2.6,2.8,2.6,2.4,2.2,2.0,2.2,2.4,2.2,2.0,2.2,2.4,2.6,2.8,6.0,3.0,5.0,1.6,2.4,9.0,4.2,5.0,6.0,5.6,1.2]

PANEL_SERIES = {
    (0, 0): [(d12M, v12M1, e12M1), (d12M, v12M2, e12M2), (d12M, v12M3, e12M3), (d12M, v12M4, e12M4), (d12M, v12M5, e12M5)],
    (0, 1): [(d15M, v15M1, e15M1), (d15M, v15M2, e15M2), (d15M, v15M3, e15M3), (d15M, v15M4, e15M4), (d15M, v15M5, e15M5)],
    (0, 2): [(d20M, v20M1, e20M1), (d20M, v20M2, e20M2), (d20M, v20M3, e20M3), (d20M4, v20M4, e20M4), (d20M, v20M5, e20M5)],
    (0, 3): [(d25M, v25M1, e25M1), (d25M, v25M2, e25M2), (d25M, v25M3, e25M3), (d25M, v25M4, e25M4), (d25M, v25M5, e25M5)],
    (0, 4): [(d30M, v30M1, e30M1), (d30M, v30M2, e30M2), (d30M, v30M3, e30M3), (d30M, v30M4, e30M4), (d30M, v30M5, e30M5)],
    (1, 0): [(d12R, v12R1, e12R1), (d12R, v12R2, e12R2), (d12R, v12R3, e12R3), (d12R, v12R4, e12R4), (d12R, v12R5, e12R5)],
    (1, 1): [(d15R, v15R1, e15R1), (d15R, v15R2, e15R2), (d15R, v15R3, e15R3), (d15R, v15R4, e15R4), (d15R, v15R5, e15R5)],
    (1, 2): [(d20R, v20R1, e20R1), (d20R, v20R2, e20R2), (d20R, v20R3, e20R3), (d20R, v20R4, e20R4), (d20R, v20R5, e20R5)],
    (1, 3): [(d25R, v25R1, e25R1), (d25R, v25R2, e25R2), (d25R, v25R3, e25R3), (d25R, v25R4, e25R4), (d25R, v25R5, e25R5)],
    (1, 4): [(d30R, v30R1, e30R1), (d30R, v30R2, e30R2), (d30R, v30R3, e30R3), (d30R, v30R4, e30R4), (d30R, v30R5, e30R5)],
    (2, 0): [(d12Y, v12Y1, e12Y1), (d12Y, v12Y2, e12Y2), (d12Y, v12Y3, e12Y3), (d12Y, v12Y4, e12Y4), (d12Y, v12Y5, e12Y5)],
    (2, 1): [(d15Y, v15Y1, e15Y1), (d15Y, v15Y2, e15Y2), (d15Y, v15Y3, e15Y3), (d15Y, v15Y4, e15Y4), (d15Y, v15Y5, e15Y5)],
    (2, 2): [(d20Y, v20Y1, e20Y1), (d20Y, v20Y2, e20Y2), (d20Y, v20Y3, e20Y3), (d20Y, v20Y4, e20Y4), (d20Y, v20Y5, e20Y5)],
    (2, 3): [(d25Y, v25Y1, e25Y1), (d25Y, v25Y2, e25Y2), (d25Y, v25Y3, e25Y3), (d25Y, v25Y4, e25Y4), (d25Y, v25Y5, e25Y5)],
    (2, 4): [(d30Y1, v30Y1, e30Y1), (d30Y_short, v30Y2, e30Y2), (d30Y_long, v30Y3, e30Y3), (d30Y_short, v30Y4, e30Y4), (d30Y_long, v30Y5, e30Y5)],
}

# ---------------- LAYOUT / STYLE ----------------
W, H = 1311, 788
COLS_PX = [(66, 299), (313, 546), (559, 792), (807, 1041), (1057, 1291)]
ROWS_PX = [(12, 245), (260, 493), (506, 742)]
FONT = "Liberation Sans, Arial, Helvetica, sans-serif"
MARKERS = [("circle", "white", 6.5), ("circle", "black", 6.5), ("square", "white", 6.5),
           ("triangle-up", "white", 6.5), ("square", "black", 6.5)]

fig = go.Figure()
layout = dict(width=W, height=H, margin=dict(l=0, r=0, t=0, b=0),
              paper_bgcolor="white", plot_bgcolor="white",
              font=dict(family=FONT, size=12, color="black"), annotations=[])

for r in range(3):
    for c in range(5):
        k = r * 5 + c + 1
        sfx = "" if k == 1 else str(k)
        x0, x1 = COLS_PX[c]
        y0, y1 = ROWS_PX[r]
        xd = [x0 / W, x1 / W]
        yd = [1 - y1 / H, 1 - y0 / H]
        yr = [-10, 40] if r == 2 else [-10, 35]
        ytk = Y_TICKS_Y if r == 2 else Y_TICKS_MR
        layout["xaxis" + sfx] = dict(domain=xd, range=[0, 50], anchor="y" + sfx,
                                     tickvals=X_TICKS, ticktext=[str(t) for t in X_TICKS],
                                     showticklabels=(r == 2), ticks="outside", ticklen=4,
                                     tickcolor="black", tickwidth=1, showline=True, linecolor="black",
                                     linewidth=1.5, mirror=True, showgrid=False, zeroline=False,
                                     tickfont=dict(size=12, family=FONT))
        layout["yaxis" + sfx] = dict(domain=yd, range=yr, anchor="x" + sfx,
                                     tickvals=ytk, ticktext=[str(t) for t in ytk],
                                     showticklabels=(c == 0), ticks="outside", ticklen=5,
                                     tickcolor="black", tickwidth=1, showline=True, linecolor="black",
                                     linewidth=1.5, mirror=True, showgrid=False, zeroline=False,
                                     tickfont=dict(size=12, family=FONT))
        lg = "legend" + sfx
        if (r, c) == (2, 0):
            layout[lg] = dict(x=(x0 - 15) / W, y=1 - (y0 + 2) / H, xanchor="left", yanchor="top")
        else:
            layout[lg] = dict(x=(x1 - 1) / W, y=1 - (y1 - 2) / H, xanchor="right", yanchor="bottom")
        layout[lg].update(bgcolor="rgba(0,0,0,0)", borderwidth=0, itemwidth=30,
                          font=dict(size=12, family=FONT, color="black"), tracegroupgap=0)
        with_lines = (r == 0 and c <= 2)
        for i, (days, vals, errs) in enumerate(PANEL_SERIES[(r, c)]):
            sym, fill, size = MARKERS[i]
            fig.add_trace(go.Scatter(
                x=days, y=vals, name=f"{TEMPS[c]}-{KINDS[r]}{i + 1}",
                mode="lines+markers" if with_lines else "markers",
                line=dict(color="black", width=1.2),
                marker=dict(symbol=sym, color=fill, size=size, line=dict(color="black", width=1)),
                error_y=dict(type="data", array=errs, visible=True, color="black", thickness=1, width=2.5),
                xaxis="x" + sfx, yaxis="y" + sfx, legend=lg, showlegend=True, cliponaxis=True))
        if r == 0:
            layout["annotations"].append(dict(
                text=TEMPS[c], xref="x" + sfx + " domain", yref="y" + sfx + " domain",
                x=0.985, y=0.99, xanchor="right", yanchor="top", showarrow=False,
                width=54, height=30, align="center", valign="middle",
                bordercolor="black", borderwidth=1, borderpad=1, bgcolor="white",
                font=dict(size=17, family=FONT, color="black")))

layout["annotations"].append(dict(text="CIE a* value", xref="paper", yref="paper",
                                  x=27 / W, y=1 - 380 / H, textangle=-90, showarrow=False,
                                  xanchor="center", yanchor="middle",
                                  font=dict(size=24, family=FONT, color="black")))
layout["annotations"].append(dict(text="Storage period (day)", xref="paper", yref="paper",
                                  x=686 / W, y=1 - 789 / H, showarrow=False,
                                  xanchor="center", yanchor="bottom", borderpad=0,
                                  font=dict(size=21, family=FONT, color="black")))

fig.update_layout(**layout)
fig.write_html("out.html", include_plotlyjs=True, config={"displayModeBar": False},
               post_script="document.body.style.margin='0';document.body.style.overflow='hidden';")
